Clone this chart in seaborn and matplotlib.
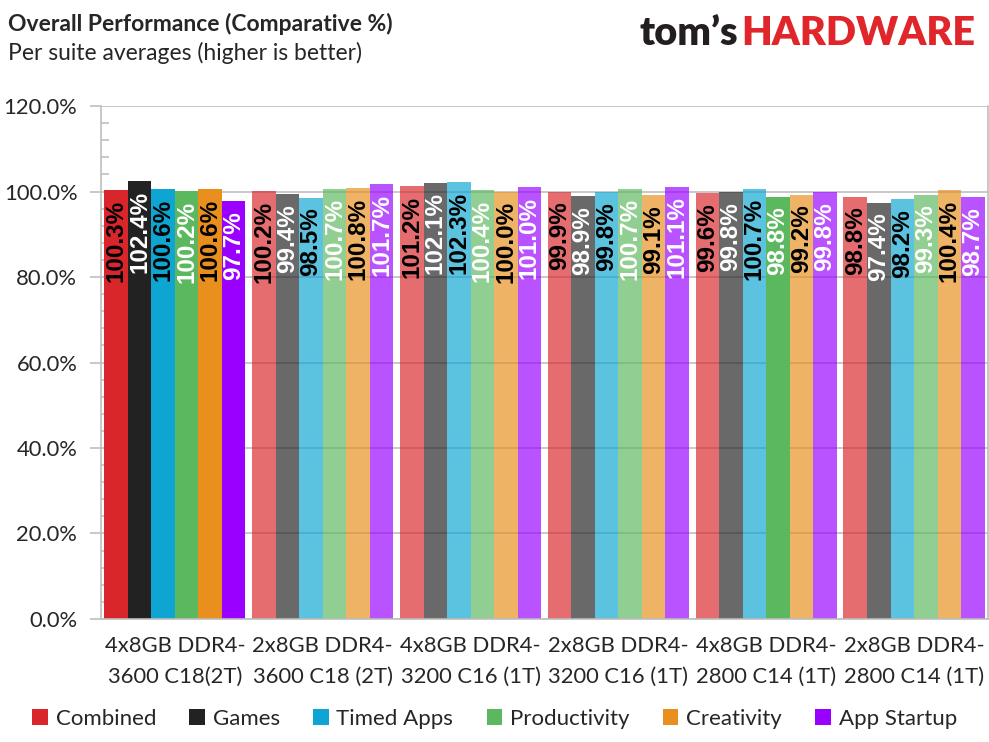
import numpy as np
import pandas as pd
import matplotlib
matplotlib.use("Agg")
import matplotlib.pyplot as plt
from matplotlib.ticker import MultipleLocator, FuncFormatter
from matplotlib.patches import Patch
import seaborn as sns

configs = [
    "4x8GB DDR4-\n3600 C18(2T)",
    "2x8GB DDR4-\n3600 C18 (2T)",
    "4x8GB DDR4-\n3200 C16 (1T)",
    "2x8GB DDR4-\n3200 C16 (1T)",
    "4x8GB DDR4-\n2800 C14 (1T)",
    "2x8GB DDR4-\n2800 C14 (1T)",
]
suites = ["Combined", "Games", "Timed Apps", "Productivity", "Creativity", "App Startup"]

combined = [100.3, 100.2, 101.2, 99.9, 99.6, 98.8]
games = [102.4, 99.4, 102.1, 98.9, 99.8, 97.4]
timed_apps = [100.6, 98.5, 102.3, 99.8, 100.7, 98.2]
productivity = [100.2, 100.7, 100.4, 100.7, 98.8, 99.3]
creativity = [100.6, 100.8, 100.0, 99.1, 99.2, 100.4]
app_startup = [97.7, 101.7, 101.0, 101.1, 99.8, 98.7]

series = [combined, games, timed_apps, productivity, creativity, app_startup]

# styling
colors = ["#D9262B", "#222222", "#0EA5D2", "#5CB85F", "#E88F1E", "#9900FF"]
label_colors = ["black", "white", "black", "white", "black", "white"]
# bars drawn in full colour (suite index, config index); all others are faded
full_bars = {(i, 0) for i in range(len(suites))} | {(3, 4)}
fade = 0.68
grid_col = "#BFBFBF"

rows = []
for s, vals in zip(suites, series):
    for c, v in zip(configs, vals):
        rows.append({"config": c, "suite": s, "value": v})
df = pd.DataFrame(rows)

sns.set_style("white")
plt.rcParams["font.family"] = ["Lato", "DejaVu Sans"]

fig = plt.figure(figsize=(9.89, 7.42), dpi=100)
ax = fig.add_axes([0.1021, 0.1658, 0.8969, 0.6912])

sns.barplot(data=df, x="config", y="value", hue="suite", order=configs,
            hue_order=suites, palette=colors, saturation=1, width=0.955,
            gap=0, ax=ax, legend=False, err_kws={"linewidth": 0})

for i, cont in enumerate(ax.containers):
    for j, p in enumerate(cont.patches):
        p.set_linewidth(0)
        if (i, j) not in full_bars:
            p.set_alpha(fade)
        ax.annotate(f"{series[i][j]:.1f}%",
                    xy=(p.get_x() + p.get_width() / 2, p.get_height()),
                    xytext=(0, -7), textcoords="offset points",
                    rotation=90, ha="center", va="top",
                    fontsize=17.5, family="Liberation Sans", fontweight="bold",
                    color=label_colors[i])

ax.set_ylim(0, 120)
ax.set_xlim(-0.5, len(configs) - 0.5)
ax.yaxis.set_major_locator(MultipleLocator(20))
ax.yaxis.set_minor_locator(MultipleLocator(4))
ax.yaxis.set_major_formatter(FuncFormatter(lambda v, _: f"{v:.1f}%"))
ax.grid(axis="y", color=grid_col, linewidth=1.2)
ax.set_axisbelow(True)

ax.set_xticks(range(len(configs)))
ax.set_xticklabels(configs, linespacing=1.7)
ax.set_xticks(np.arange(-0.5, len(configs), 1), minor=True)
ax.tick_params(axis="x", which="major", length=0, pad=12, labelsize=15.8)
ax.tick_params(axis="x", which="minor", length=8, width=1.2, color=grid_col,
               direction="out")
ax.tick_params(axis="y", which="major", length=8, width=1.2, color=grid_col,
               direction="out", labelsize=15.8, pad=9, left=True)
ax.tick_params(axis="y", which="minor", length=6, width=1.2, color=grid_col,
               direction="in", left=True)
ax.set_xlabel("")
ax.set_ylabel("")

for side in ["left", "bottom", "right", "top"]:
    ax.spines[side].set_visible(True)
    ax.spines[side].set_color(grid_col)
    ax.spines[side].set_linewidth(1.2)
ax.spines["top"].set_visible(False)

handles = [Patch(facecolor=c, edgecolor="none") for c in colors]
fig.legend(handles, suites, loc="center", bbox_to_anchor=(0.5, 0.031),
           ncol=6, frameon=False, fontsize=16, handlelength=0.7,
           handleheight=0.7, handletextpad=0.35, columnspacing=1.5)

fig.text(0.008, 0.968, "Overall Performance (Comparative %)", fontsize=16.5,
         fontweight="bold", ha="left", va="center")
fig.text(0.008, 0.929, "Per suite averages (higher is better)", fontsize=16.5,
         ha="left", va="center")

# logo: place "tom's" just left of "HARDWARE"
hw = fig.text(0.986, 0.955, "HARDWARE", fontsize=28.5, fontweight="heavy",
              color="#E0262B", ha="right", va="center")
renderer = fig.canvas.get_renderer()
bb = hw.get_window_extent(renderer=renderer)
x_left = (bb.x0 - 3) / fig.bbox.width
fig.text(x_left, 0.955, "tom\u2019s", fontsize=28.5, fontweight="heavy",
         color="#231F20", ha="right", va="center")

fig.savefig("out.png", dpi=100)
